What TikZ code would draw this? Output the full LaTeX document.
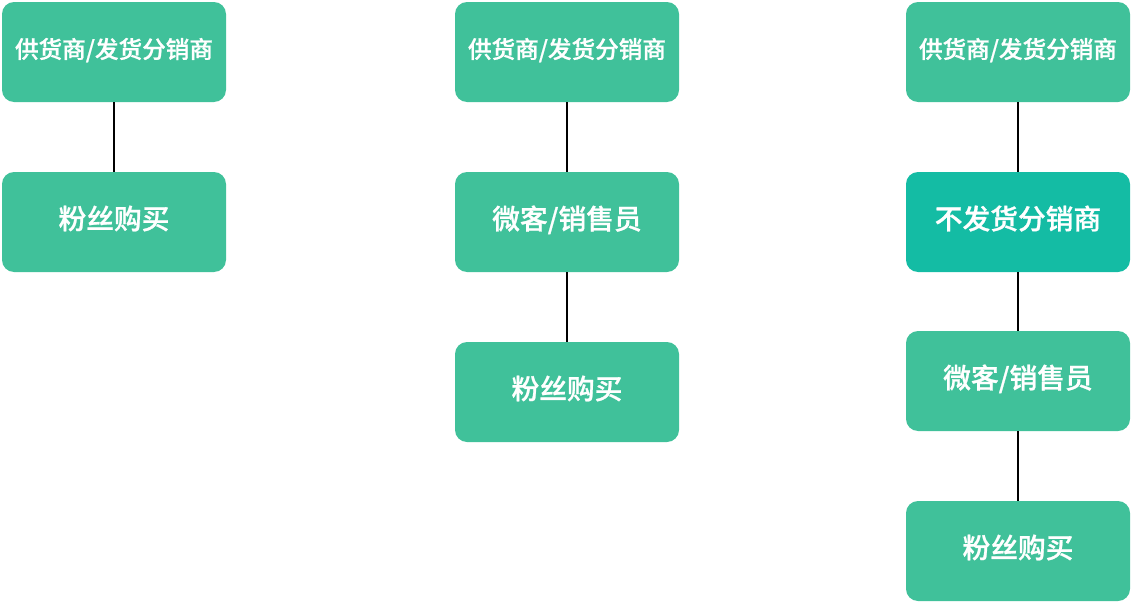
\documentclass[tikz,border=0pt]{standalone}
\usepackage{fontspec}
\newfontfamily\cjk{Noto Sans CJK SC Medium}[FakeBold=0.9]
\definecolor{boxgreen}{HTML}{40C19A}
\definecolor{boxteal}{HTML}{14BCA4}
\tikzset{
	box/.style={fill=boxgreen, rounded corners=9pt, minimum width=168pt, minimum height=75pt,
		text=white, text depth=7pt, font=\cjk\fontsize{20.8pt}{24pt}\selectfont},
	topbox/.style={box, text depth=6pt, font=\cjk\fontsize{17.7pt}{21pt}\selectfont},
	link/.style={line width=1.4pt, black}
}
\begin{document}
\begin{tikzpicture}[x=0.75pt, y=-0.75pt]
	\useasboundingbox (0,0) rectangle (1133,603);
	
	% sources
	\foreach \n/\x in {a/114, b/567, c/1018}
	\node[topbox] (\n1) at (\x, 52) {供货商/发货分销商};
	
	% left chain
	\node[box] (a2) at (114, 222) {粉丝购买};
	
	% middle chain
	\node[box] (b2) at (567, 222) {微客/销售员};
	\node[box] (b3) at (567, 392) {粉丝购买};
	
	% right chain
	\node[box, fill=boxteal] (c2) at (1018, 222) {不发货分销商};
	\node[box] (c3) at (1018, 381) {微客/销售员};
	\node[box] (c4) at (1018, 551) {粉丝购买};
	
	% links
	\foreach \s/\t in {a1/a2, b1/b2, b2/b3, c1/c2, c2/c3, c3/c4}
	\draw[link] (\s) -- (\t);
	
\end{tikzpicture}
\end{document}
